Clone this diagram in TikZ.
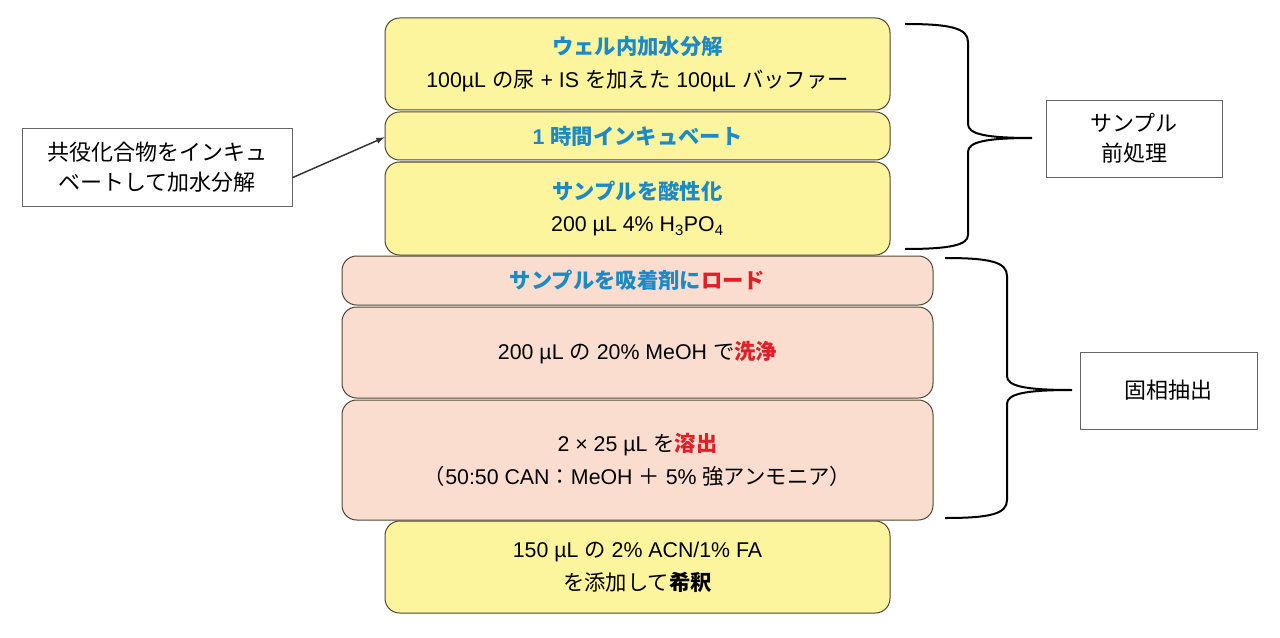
\documentclass[tikz,border=0pt]{standalone}
\usepackage{fontspec}
\setmainfont{Liberation Sans}
\newfontfamily\jpfont{Noto Sans CJK JP}
\newcommand{\ja}[1]{{\jpfont #1}}
\usetikzlibrary{arrows}

\definecolor{stepyellow}{RGB}{253,245,158}
\definecolor{steppink}{RGB}{251,221,208}
\definecolor{stepedge}{RGB}{80,72,50}
\definecolor{titleblue}{RGB}{28,138,198}
\definecolor{actred}{RGB}{228,30,38}

\newcommand{\tblue}[1]{\textcolor{titleblue}{\bfseries #1}}
\newcommand{\tred}[1]{\textcolor{actred}{\bfseries #1}}

\begin{document}
\begin{tikzpicture}[> = latex, x = 0.75pt, y = -0.75pt,
	stepbox/.style = {draw = stepedge, line width = 0.75pt, rounded corners = 11pt,
		align = center, inner sep = 0pt, font = \fontsize{16}{24.5}\selectfont},
	prep/.style = {stepbox, fill = stepyellow, minimum width = 378.75pt},
	spe/.style = {stepbox, fill = steppink, minimum width = 443.25pt},
	labelbox/.style = {draw = black!60, line width = 0.6pt, fill = white, align = center,
		inner sep = 0pt, font = \fontsize{16.5}{22.5}\selectfont\jpfont},
	brace/.style = {line width = 1.5pt, black}]

	\useasboundingbox (0, 0) rectangle (1280, 638);

	% Sample preparation steps

	\node [prep, minimum height = 69pt] (hydro) at (637.5, 64)
		{\tblue{\ja{ウェル内加水分解}}\\100µL \ja{の尿} + IS \ja{を加えた} 100µL \ja{バッファー}};
	\node [prep, minimum height = 36pt] (incub) at (637.5, 136)
		{\tblue{1 \ja{時間インキュベート}}};
	\node [prep, minimum height = 69.75pt] (acid) at (637.5, 208.5)
		{\tblue{\ja{サンプルを酸性化}}\\200 µL 4\% H\textsubscript{3}PO\textsubscript{4}};

	% Solid phase extraction steps

	\node [spe, minimum height = 36.75pt] (load) at (637.5, 280.5)
		{\tblue{\ja{サンプルを吸着剤に}}\tred{\ja{ロード}}};
	\node [spe, minimum height = 68.25pt] (wash) at (637.5, 352.5)
		{200 µL \ja{の} 20\% MeOH \ja{で}\tred{\ja{洗浄}}};
	\node [spe, minimum height = 90pt] (elute) at (637.5, 460)
		{2 × 25 µL \ja{を}\tred{\ja{溶出}}\\\ja{（}50:50 CAN\ja{：}MeOH \ja{＋} 5\% \ja{強アンモニア）}};

	% Dilution

	\node [prep, minimum height = 69pt] (dilute) at (637.5, 567)
		{150 µL \ja{の} 2\% ACN/1\% FA\\\ja{を添加して}{\bfseries\ja{希釈}}};

	% Side notes

	\node [labelbox, minimum width = 202.5pt, minimum height = 58.5pt] (note) at (157, 167)
		{共役化合物をインキュ\\ベートして加水分解};
	\draw [->, line width = 1.1pt, black!80] ([yshift = -8pt]note.east) -- ([yshift = -1pt]incub.west);

	\node [labelbox, minimum width = 132pt, minimum height = 57.75pt] (preplabel) at (1134, 138.5)
		{サンプル\\前処理};
	\node [labelbox, minimum width = 132.75pt, minimum height = 57.75pt] (spelabel) at (1168.5, 390.5)
		{固相抽出};

	% Braces

	\draw [brace] (905, 24) .. controls (950, 24) and (968, 28) .. (968, 42) -- (968, 124)
		.. controls (968, 134) and (985, 138) .. (1032, 138)
		.. controls (985, 138) and (968, 142) .. (968, 152) -- (968, 235)
		.. controls (968, 245) and (950, 249) .. (905, 249);
	\draw [brace] (945, 258) .. controls (990, 258) and (1007, 262) .. (1007, 276) -- (1007, 376)
		.. controls (1007, 386) and (1024, 390) .. (1072, 390)
		.. controls (1024, 390) and (1007, 394) .. (1007, 404) -- (1007, 500)
		.. controls (1007, 514) and (990, 518) .. (945, 518);

\end{tikzpicture}
\end{document}
